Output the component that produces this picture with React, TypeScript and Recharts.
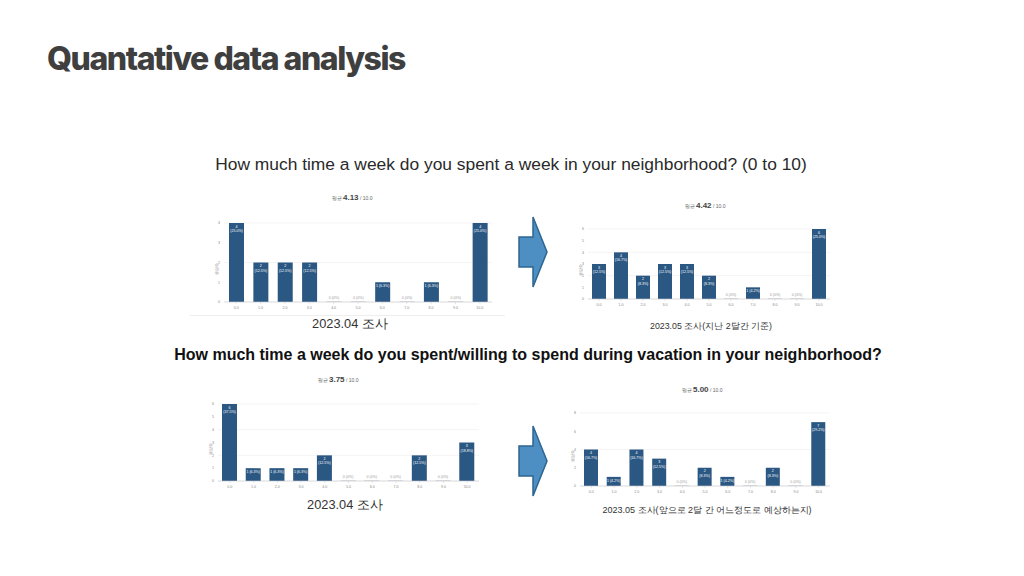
import React from 'react';
import { BarChart, Bar, XAxis, YAxis, CartesianGrid, LabelList, Cell } from 'recharts';

// score buckets 0.0 ~ 10.0
const categories = ['0.0', '1.0', '2.0', '3.0', '4.0', '5.0', '6.0', '7.0', '8.0', '9.0', '10.0'];

// Q1: time per week in neighborhood
const weekApril = [4, 2, 2, 2, 0, 0, 1, 0, 1, 0, 4];
const weekMay = [3, 4, 2, 3, 3, 2, 0, 1, 0, 0, 6];
// Q2: during vacation
const vacationApril = [6, 1, 1, 1, 2, 0, 0, 0, 2, 0, 3];
const vacationMay = [4, 1, 4, 3, 0, 2, 1, 0, 2, 0, 7];

const means = ['4.13', '4.42', '3.75', '5.00'];
const ticksA = [0, 1, 2, 3, 4];
const ticksB = [0, 1, 2, 3, 4, 5, 6];
const ticksC = [0, 2, 4, 6, 8];

const BAR = '#2b5783';
const FONT = '"Liberation Sans", Arial, sans-serif';

type Box = { x: number; y: number; w: number; h: number };
type Plot = { left: number; right: number; top: number; bottom: number };

function makeLabel(values: number[], total: number) {
    return (props: any) => {
        const { x, y, width, index } = props;
        const value = values[index];
        const cx = x + width / 2;
        if (value === 0) {
            return (
                <text x={cx} y={y - 2} textAnchor="middle" fontSize={3.6} fill="#999" fontFamily={FONT}>
                    0 (0%)
                </text>
            );
        }
        const pct = ((value / total) * 100).toFixed(1);
        if (value === 1) {
            return (
                <text x={cx} y={y + 5} textAnchor="middle" fontSize={3.6} fill="#fff" fontFamily={FONT}>
                    {`1 (${pct}%)`}
                </text>
            );
        }
        return (
            <text x={cx} y={y + 4.5} textAnchor="middle" fontSize={3.6} fill="#fff" fontFamily={FONT}>
                <tspan x={cx}>{value}</tspan>
                <tspan x={cx} dy={4.5}>{`(${pct}%)`}</tspan>
            </text>
        );
    };
}

function MiniChart({ values, ticks, box, plot, barSize }: { values: number[]; ticks: number[]; box: Box; plot: Plot; barSize: number }) {
    const data = categories.map((c, i) => ({ name: c, value: values[i] }));
    const total = values.reduce((a, b) => a + b, 0);
    const yw = 8;
    const xh = 10;
    const margin = {
        top: plot.top - box.y,
        bottom: box.y + box.h - plot.bottom - xh,
        left: plot.left - box.x - yw,
        right: box.x + box.w - plot.right,
    };
    return (
        <div style={{ position: 'absolute', left: box.x, top: box.y }}>
            <BarChart width={box.w} height={box.h} data={data} margin={margin}>
                <CartesianGrid vertical={false} stroke="#ececec" strokeWidth={0.6} />
                <XAxis
                    dataKey="name"
                    height={xh}
                    tick={{ fontSize: 3.6, fill: '#888', fontFamily: FONT }}
                    tickLine={{ stroke: '#ccc', strokeWidth: 0.5 }}
                    tickSize={2}
                    axisLine={{ stroke: '#ccc', strokeWidth: 0.6 }}
                    interval={0}
                />
                <YAxis
                    width={yw}
                    domain={[0, ticks[ticks.length - 1]]}
                    ticks={ticks}
                    tick={{ fontSize: 3.6, fill: '#888', fontFamily: FONT }}
                    tickSize={2}
                    tickLine={false}
                    axisLine={false}
                    label={{ value: '응답수', angle: -90, position: 'left', offset: -1, fontSize: 3.6, fill: '#888' }}
                />
                <Bar dataKey="value" fill={BAR} barSize={barSize} minPointSize={1} isAnimationActive={false}>
                    {data.map((d, i) => (
                        <Cell key={`c-${i}`} fill={d.value === 0 ? '#d5dbe2' : BAR} />
                    ))}
                    <LabelList dataKey="value" content={makeLabel(values, total)} />
                </Bar>
            </BarChart>
        </div>
    );
}

function Mean({ x, y, value }: { x: number; y: number; value: string }) {
    return (
        <div
            style={{
                position: 'absolute', left: x, top: y, transform: 'translate(-50%, -50%)',
                fontFamily: FONT, color: '#666', whiteSpace: 'nowrap', lineHeight: 1,
            }}
        >
            <span style={{ fontSize: 5 }}>평균 </span>
            <span style={{ fontSize: 8, color: '#444', fontWeight: 600 }}>{value}</span>
            <span style={{ fontSize: 5 }}> / 10.0</span>
        </div>
    );
}

function Arrow({ x, y }: { x: number; y: number }) {
    return (
        <svg style={{ position: 'absolute', left: x, top: y }} width={34} height={78}>
            <polygon
                points="2,22 16,22 16,2 30,37 16,72 16,52 2,52"
                fill="#4d8fc2"
                stroke="#2d6692"
                strokeWidth={1.5}
            />
        </svg>
    );
}

function Text({ x, y, size, children, weight = 400, color = '#333' }: any) {
    return (
        <div
            style={{
                position: 'absolute', left: x, top: y, transform: 'translate(-50%, -50%)',
                fontFamily: FONT, fontSize: size, fontWeight: weight, color, whiteSpace: 'nowrap', lineHeight: 1,
            }}
        >
            {children}
        </div>
    );
}

export default function App() {
    return (
        <div style={{ position: 'absolute', left: 0, top: 0, width: 1024, height: 576, background: '#fff', overflow: 'hidden' }}>
            <div
                style={{
                    position: 'absolute', left: 47, top: 43, fontFamily: 'Inter, sans-serif', fontSize: 32,
                    fontWeight: 800, letterSpacing: -1.45, color: '#3f3f3f', lineHeight: 1, whiteSpace: 'nowrap',
                }}
            >
                Quantative data analysis
            </div>

            <Text x={511} y={165} size={17.4} color="#2a2a2a">
                How much time a week do you spent a week in your neighborhood? (0 to 10)
            </Text>
            <Text x={528} y={355} size={16} weight={600} color="#111">
                How much time a week do you spent/willing to spend during vacation in your neighborhood?
            </Text>

            <Mean x={352} y={195} value={means[0]} />
            <MiniChart values={weekApril} ticks={ticksA} barSize={15}
                box={{ x: 190, y: 212, w: 310, h: 103 }} plot={{ left: 224, right: 492, top: 223, bottom: 302 }} />
            <div style={{ position: 'absolute', left: 190, top: 315, width: 315, height: 1, background: '#eee' }} />
            <Text x={350} y={324} size={12.8}>2023.04 조사</Text>

            <Mean x={705} y={203} value={means[1]} />
            <MiniChart values={weekMay} ticks={ticksB} barSize={14}
                box={{ x: 560, y: 218, w: 280, h: 95 }} plot={{ left: 588, right: 830, top: 229, bottom: 299 }} />
            <Text x={711} y={326} size={8.8}>2023.05 조사(지난 2달간 기준)</Text>

            <Mean x={338} y={377} value={means[2]} />
            <MiniChart values={vacationApril} ticks={ticksB} barSize={15}
                box={{ x: 190, y: 395, w: 300, h: 100 }} plot={{ left: 218, right: 479, top: 404, bottom: 481 }} />
            <Text x={345} y={505} size={12.8}>2023.04 조사</Text>

            <Mean x={702} y={387} value={means[3]} />
            <MiniChart values={vacationMay} ticks={ticksC} barSize={14}
                box={{ x: 560, y: 402, w: 280, h: 98 }} plot={{ left: 580, right: 830, top: 413, bottom: 486 }} />
            <Text x={707} y={510} size={9}>2023.05 조사(앞으로 2달 간 어느정도로 예상하는지)</Text>

            <Arrow x={517} y={215} />
            <Arrow x={517} y={424} />
        </div>
    );
}
